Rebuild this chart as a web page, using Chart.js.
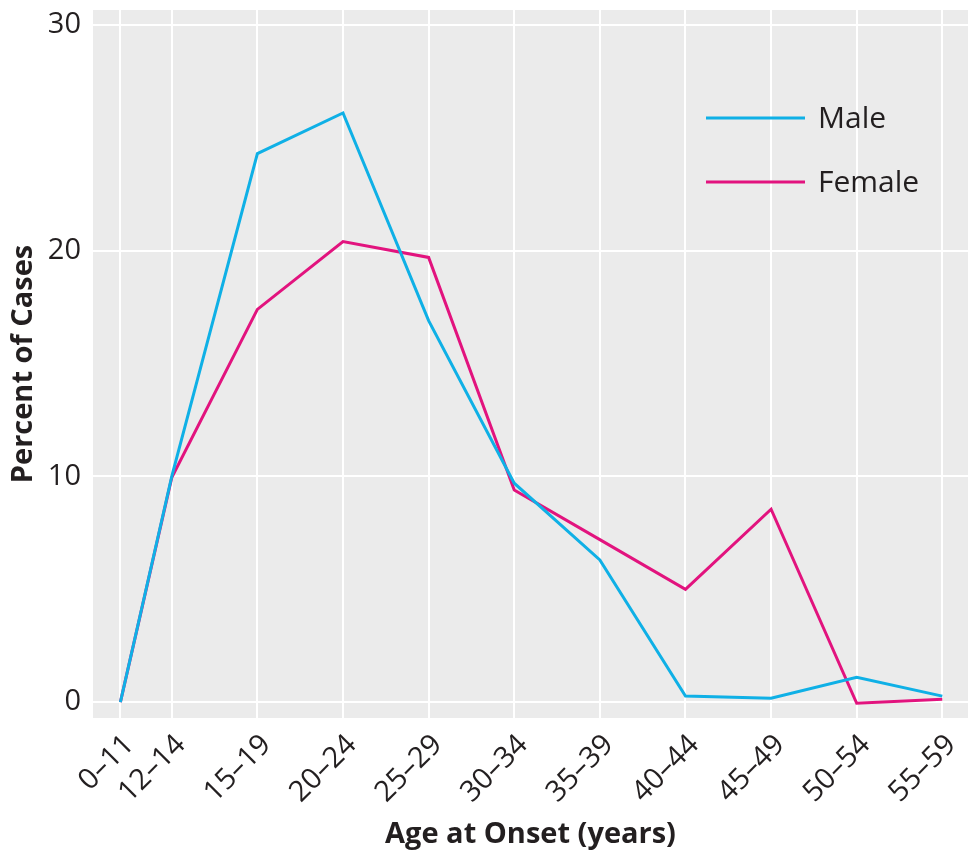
<!DOCTYPE html>
<html>
<head>
<meta charset="utf-8">
<script src="https://cdn.jsdelivr.net/npm/chart.js@4/dist/chart.umd.min.js"></script>
<style>
  html, body { margin: 0; padding: 0; background: #fff; }
  #wrap { width: 968px; height: 854px; }
</style>
</head>
<body>
<div id="wrap"><canvas id="onsetChart" width="968" height="854"></canvas></div>
<script>
// age groups and where each one sits on the age axis (upper bound of the group)
const ageGroups = ['0–11', '12–14', '15–19', '20–24', '25–29', '30–34', '35–39', '40–44', '45–49', '50–54', '55–59'];
const ageUpper = [11, 14, 19, 24, 29, 34, 39, 44, 49, 54, 59];

// percent of cases
const malePct = [0, 10.0, 24.3, 26.1, 16.9, 9.7, 6.3, 0.27, 0.18, 1.1, 0.27];
const femalePct = [0, 9.95, 17.4, 20.4, 19.7, 9.4, 7.2, 5.0, 8.55, -0.05, 0.13];

const yTicks = [0, 10, 20, 30];

const MALE_COLOR = '#0fb0e6';
const FEMALE_COLOR = '#e2137e';
const TEXT_COLOR = '#231f20';
const FONT = "'Open Sans', 'DejaVu Sans', sans-serif";

const toPoints = vals => vals.map((v, i) => ({ x: ageUpper[i], y: v }));

// gray panel behind the plot
const panelBg = {
    id: 'panelBg',
    beforeDraw(chart) {
        const { ctx, chartArea: a } = chart;
        ctx.save();
        ctx.fillStyle = '#ebebeb';
        ctx.fillRect(a.left, a.top, a.right - a.left, a.bottom - a.top);
        ctx.restore();
    }
};

// legend drawn inside the panel, top right
const innerLegend = {
    id: 'innerLegend',
    afterDatasetsDraw(chart) {
        const { ctx, chartArea: a } = chart;
        const x0 = a.right - 262;
        let y = a.top + 108;
        ctx.save();
        ctx.font = '30px ' + FONT;
        ctx.textBaseline = 'middle';
        chart.data.datasets.forEach(ds => {
            ctx.strokeStyle = ds.borderColor;
            ctx.lineWidth = 3;
            ctx.beginPath();
            ctx.moveTo(x0, y);
            ctx.lineTo(x0 + 99, y);
            ctx.stroke();
            ctx.fillStyle = TEXT_COLOR;
            ctx.fillText(ds.label, x0 + 112, y + 1);
            y += 64;
        });
        ctx.restore();
    }
};

new Chart(document.getElementById('onsetChart'), {
    type: 'line',
    data: {
        datasets: [
            { label: 'Male', data: toPoints(malePct), borderColor: MALE_COLOR, borderWidth: 3, pointRadius: 0, tension: 0 },
            { label: 'Female', data: toPoints(femalePct), borderColor: FEMALE_COLOR, borderWidth: 3, pointRadius: 0, tension: 0 }
        ]
    },
    options: {
        responsive: false,
        animation: false,
        layout: { padding: { top: 10, right: 0, left: 0, bottom: 0 } },
        plugins: {
            legend: { display: false },
            tooltip: { enabled: false }
        },
        scales: {
            x: {
                type: 'linear',
                min: 9.4,
                max: 60.5,
                border: { display: false },
                grid: { color: '#ffffff', lineWidth: 2, drawTicks: false },
                afterBuildTicks: axis => { axis.ticks = ageUpper.map(v => ({ value: v })); },
                afterFit: axis => {
                    axis.height = 136;
                    axis.paddingLeft = 0;
                    axis.paddingRight = 0;
                },
                ticks: {
                    autoSkip: false,
                    minRotation: 45,
                    maxRotation: 45,
                    padding: 10,
                    labelOffset: 9,
                    color: TEXT_COLOR,
                    font: { family: FONT, size: 29 },
                    callback: (value) => ageGroups[ageUpper.indexOf(value)]
                },
                title: {
                    display: true,
                    text: 'Age at Onset (years)',
                    color: TEXT_COLOR,
                    font: { family: FONT, size: 29, weight: 'bold' },
                    padding: { top: 0, bottom: 2 }
                }
            },
            y: {
                min: -0.7,
                max: 30.66,
                border: { display: false },
                grid: { color: '#ffffff', lineWidth: 2, drawTicks: false },
                afterBuildTicks: axis => { axis.ticks = yTicks.map(v => ({ value: v })); },
                afterFit: axis => {
                    axis.width = 93;
                    axis.paddingTop = 0;
                    axis.paddingBottom = 0;
                },
                ticks: {
                    padding: 12,
                    color: TEXT_COLOR,
                    font: { family: FONT, size: 29 }
                },
                title: {
                    display: true,
                    text: 'Percent of Cases',
                    color: TEXT_COLOR,
                    font: { family: FONT, size: 29, weight: 'bold' },
                    padding: { top: 6, bottom: 0 }
                }
            }
        }
    },
    plugins: [panelBg, innerLegend]
});
</script>
</body>
</html>
